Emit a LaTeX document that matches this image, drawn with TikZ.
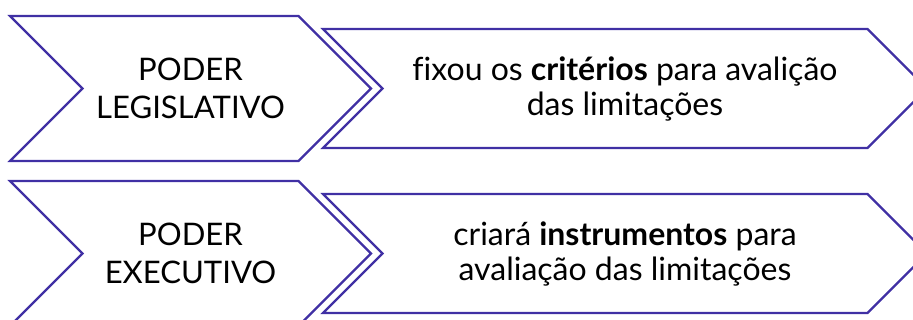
\documentclass[tikz,border=0pt]{standalone}
\usepackage{fontspec}
\setmainfont{Lato}[Ligatures={NoCommon}]
\usetikzlibrary{shapes.symbols}
\definecolor{chevron}{RGB}{64,48,164}

\begin{document}
\begin{tikzpicture}[x=0.75pt,y=0.75pt,
    chev/.style={signal,signal from=west,signal to=east,signal pointer angle=90,
      draw=chevron,line width=1.7pt,inner sep=0pt,align=center},
    power node/.style={chev,minimum width=270.75pt,minimum height=108.75pt,
      font=\fontsize{23.3}{28.5}\selectfont},
    task node/.style={chev,minimum width=453pt,minimum height=89.25pt,
      font=\fontsize{24}{26.25}\selectfont}]
  \useasboundingbox (0,0) rectangle (913,320);
  \clip (0,0) rectangle (913,320);

  \node[power node] (leg) at (190.5,231.5) {PODER\\LEGISLATIVO};
  \node[task node] (crit) at (625,231.5) {fixou os \textbf{critérios} para avalição\\das limitações};

  \node[power node] (exe) at (190.5,66.5) {PODER\\EXECUTIVO};
  \node[task node] (inst) at (625,66.5) {criará \textbf{instrumentos} para\\avaliação das limitações};
\end{tikzpicture}
\end{document}
